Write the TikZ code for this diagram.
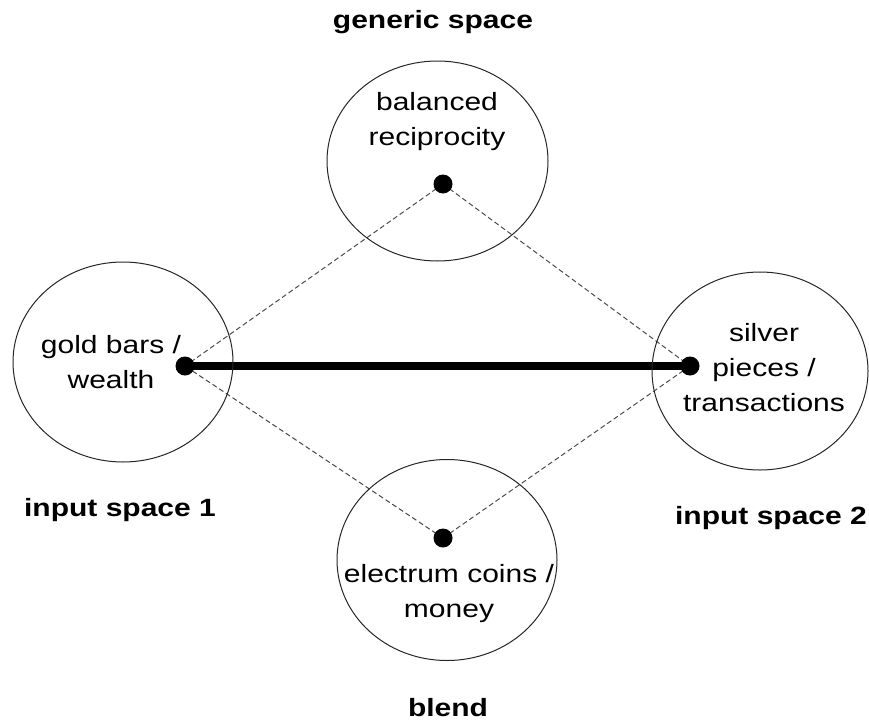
\documentclass[tikz,border=0pt]{standalone}
\usepackage{fontspec}
\setmainfont{Liberation Sans}
\usetikzlibrary{shapes.geometric,backgrounds}
\begin{document}
\begin{tikzpicture}[x=1pt,y=-1pt,
  space/.style={ellipse,draw=black!85,line width=1pt,inner sep=0pt},
  dotnode/.style={circle,fill=black,inner sep=0pt,minimum size=19pt},
  txt/.style={font=\fontsize{25}{35}\selectfont,align=center,xscale=1.2,anchor=base,inner sep=0pt},
  lbl/.style={txt,font=\fontsize{25}{35}\selectfont\bfseries},
  map/.style={dash pattern=on 5pt off 3pt,line width=1pt,draw=black!70},
  link/.style={line width=8pt,draw=black}]
\useasboundingbox (0,0) rectangle (869,720);
% spaces
\node[space,minimum width=221pt,minimum height=200pt] (genE) at (437.5,161) {};
\node[space,minimum width=220pt,minimum height=200pt] (in1E) at (123,362) {};
\node[space,minimum width=216pt,minimum height=198pt] (in2E) at (760,371) {};
\node[space,minimum width=220pt,minimum height=201pt] (blE) at (447,560) {};
% dots
\node[dotnode] (g) at (443,184) {};
\node[dotnode] (a) at (185,366) {};
\node[dotnode] (b) at (690,366) {};
\node[dotnode] (c) at (443,538) {};
% connectors
\begin{scope}[on background layer]
\draw[map] (g.center) -- (a.center);
\draw[map] (g.center) -- (b.center);
\draw[map] (c.center) -- (a.center);
\draw[map] (c.center) -- (b.center);
\draw[link] (a.center) -- (b.center);
\end{scope}
% texts (anchored at the baseline of the last line)
\node[txt] (gt) at (437,145) {balanced\\reciprocity};
\node[txt] (at) at (111,388) {gold bars /\\wealth};
\node[txt] (bt) at (764,411) {silver\\pieces /\\transactions};
\node[txt] (ct) at (449,617) {electrum coins /\\money};
% labels
\node[lbl] (gl) at (433,28) {generic space};
\node[lbl] (al) at (120,516) {input space 1};
\node[lbl] (bl) at (771,524) {input space 2};
\node[lbl] (cl) at (448,716) {blend};
\end{tikzpicture}
\end{document}
